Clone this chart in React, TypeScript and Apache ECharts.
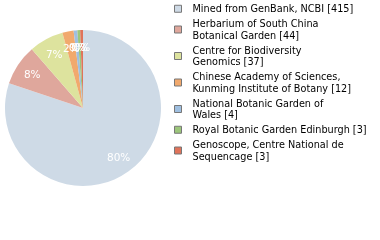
import React, { useEffect, useRef } from "react";
import * as echarts from "echarts";

const categories: string[] = [
  "Mined from GenBank, NCBI",
  "Herbarium of South China\nBotanical Garden",
  "Centre for Biodiversity\nGenomics",
  "Chinese Academy of Sciences,\nKunming Institute of Botany",
  "National Botanic Garden of\nWales",
  "Royal Botanic Garden Edinburgh",
  "Genoscope, Centre National de\nSequencage",
];
const values: number[] = [415, 44, 37, 12, 4, 3, 3];
const colors: string[] = ["#cedae6", "#dfa79c", "#dde39e", "#f1a96d", "#9fbfe0", "#9cc67b", "#e0735a"];

export default function App() {
  const ref = useRef<HTMLDivElement>(null);
  useEffect(() => {
    if (!ref.current) return;
    const chart = echarts.init(ref.current, undefined, { renderer: "svg" });
    const total = values.reduce((a, b) => a + b, 0);
    const data = categories.map((name, i) => ({
      name,
      value: values[i],
      itemStyle: { color: colors[i] },
    }));
    const countOf: Record<string, number> = {};
    categories.forEach((c, i) => (countOf[c] = values[i]));
    chart.setOption({
      animation: false,
      legend: {
        orient: "vertical",
        left: 169,
        top: -2,
        itemWidth: 7,
        itemHeight: 7,
        itemGap: 3.5,
        icon: "rect",
        selectedMode: false,
        itemStyle: { borderColor: "#777", borderWidth: 1 },
        textStyle: {
          fontFamily: "DejaVu Sans",
          fontSize: 9.7,
          color: "#000",
          lineHeight: 11.5,
          padding: [0, 0, 0, 6],
        },
        formatter: (name: string) => `${name} [${countOf[name]}]`,
        data: categories,
      },
      series: [
        {
          type: "pie",
          center: [83, 108],
          radius: [0, 78],
          startAngle: 90,
          clockwise: true,
          silent: true,
          label: { show: false },
          labelLine: { show: false },
          data,
        },
        {
          type: "pie",
          center: [83, 108],
          radius: [38, 78],
          startAngle: 90,
          clockwise: true,
          silent: true,
          avoidLabelOverlap: false,
          minShowLabelAngle: 0,
          labelLayout: { hideOverlap: false },
          itemStyle: { color: "rgba(0,0,0,0)" },
          label: {
            show: true,
            position: "inside",
            color: "#fff",
            fontFamily: "DejaVu Sans",
            fontSize: 10.5,
            formatter: (p: any) => `${Math.floor((p.value / total) * 100)}%`,
          },
          labelLine: { show: false },
          data: categories.map((name, i) => ({ name: name + " ", value: values[i] })),
        },
      ],
    });
    return () => chart.dispose();
  }, []);
  return (
    <div
      ref={ref}
      style={{ position: "fixed", left: 0, top: 0, width: 380, height: 240 }}
    />
  );
}
